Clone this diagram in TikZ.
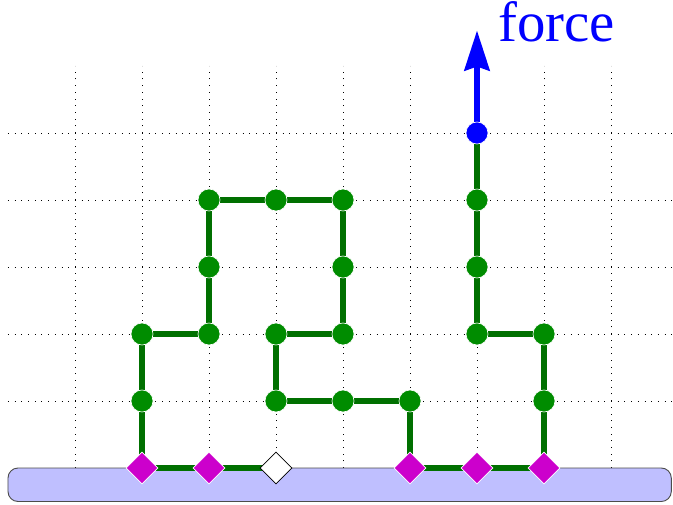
\documentclass[tikz,border=0pt]{standalone}
\usepackage{fontspec}
\setmainfont{Liberation Serif}
\usetikzlibrary{arrows.meta,shapes.geometric}
\definecolor{linkgreen}{RGB}{0,112,0}
\definecolor{nodegreen}{RGB}{0,140,0}
\definecolor{groundblue}{RGB}{191,191,255}
\definecolor{magentad}{RGB}{204,0,204}
\pgfdeclarelayer{back}
\pgfdeclarelayer{links}
\pgfsetlayers{back,links,main}
\tikzset{
  gridline/.style={black, line width=0.9bp, dash pattern=on 0.9bp off 5.8bp},
  joint/.style={circle, fill=nodegreen, draw=white, line width=0.6bp, minimum size=22bp, inner sep=0pt},
  forcejoint/.style={circle, fill=blue, draw=white, line width=0.6bp, minimum size=22bp, inner sep=0pt},
  anchorfix/.style={diamond, fill=magentad, draw=white, line width=0.8bp, inner sep=0pt, minimum width=32bp, minimum height=32bp, shape aspect=1},
  anchorfree/.style={diamond, fill=white, draw=black, line width=0.8bp, inner sep=0pt, minimum width=32bp, minimum height=32bp, shape aspect=1},
  link/.style={linkgreen, line width=6bp},
}
\begin{document}
\begin{tikzpicture}[x=67bp,y=67bp]
\useasboundingbox (-1.1194,-0.5522) rectangle (8.9254,6.9851);
\begin{pgfonlayer}{back}
\foreach \r in {1,...,5} \draw[gridline] (-1,\r) -- (8.93,\r);
\foreach \c in {0,...,8} \draw[gridline] (\c,0) -- (\c,6);
\draw[fill=groundblue, draw=black!70, line width=0.9bp, rounded corners=10bp] (-1,-0.5) rectangle (8.9,0);
\end{pgfonlayer}
% nodes
\node[anchorfix] (d1) at (1,0) {};
\node[anchorfix] (d2) at (2,0) {};
\node[anchorfree] (d3) at (3,0) {};
\node[anchorfix] (d5) at (5,0) {};
\node[anchorfix] (d6) at (6,0) {};
\node[anchorfix] (d7) at (7,0) {};
\node[joint] (a11) at (1,1) {};
\node[joint] (a12) at (1,2) {};
\node[joint] (a22) at (2,2) {};
\node[joint] (a23) at (2,3) {};
\node[joint] (a24) at (2,4) {};
\node[joint] (a34) at (3,4) {};
\node[joint] (a44) at (4,4) {};
\node[joint] (a43) at (4,3) {};
\node[joint] (a42) at (4,2) {};
\node[joint] (a32) at (3,2) {};
\node[joint] (a31) at (3,1) {};
\node[joint] (a41) at (4,1) {};
\node[joint] (a51) at (5,1) {};
\node[joint] (a71) at (7,1) {};
\node[joint] (a72) at (7,2) {};
\node[joint] (a62) at (6,2) {};
\node[joint] (a63) at (6,3) {};
\node[joint] (a64) at (6,4) {};
\node[forcejoint] (a65) at (6,5) {};
\coordinate (tip) at (6,6.53);
\begin{pgfonlayer}{links}
\draw[link] (d1.center) -- (a11.center) -- (a12.center) -- (a22.center) -- (a23.center) -- (a24.center) -- (a34.center) -- (a44.center) -- (a43.center) -- (a42.center) -- (a32.center) -- (a31.center) -- (a41.center) -- (a51.center) -- (d5.center);
\draw[link] (d1.center) -- (d2.center) -- (d3.center);
\draw[link] (d5.center) -- (d6.center) -- (d7.center) -- (a71.center) -- (a72.center) -- (a62.center) -- (a63.center) -- (a64.center) -- (a65.center);
\draw[blue, line width=6bp, -{Stealth[length=40bp, width=25bp, inset=4bp]}] (a65.center) -- (tip);
\end{pgfonlayer}
\node[blue, anchor=base west, inner sep=0pt, font=\fontsize{57}{60}\selectfont] (lbl) at (6.315,6.36) {force};
\end{tikzpicture}
\end{document}
